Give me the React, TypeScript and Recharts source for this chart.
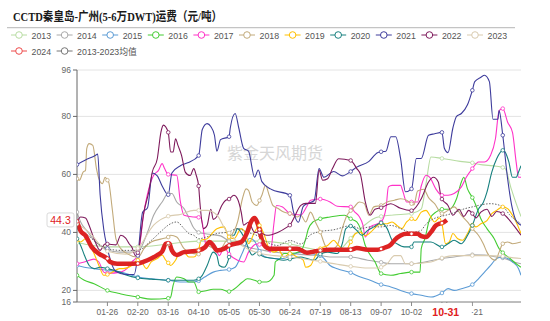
import React from "react";
import { LineChart, Line, XAxis, YAxis, CartesianGrid, ReferenceLine } from "recharts";

// [day of year (2024 calendar), 元/吨]
type Pt = [number, number];

const S2013: Pt[] = [[0,36.5],[25,35],[50,35],[75,36],[100,37],[125,37],[150,37],[175,36],[200,34],[215,34],[225,38],[235,42],[245,45],[250,45.5],[260,46],[275,46.5],[283,48],[287,57],[291,66],[300,65.5],[315,64.5],[325,64],[330,63.5],[345,62.8],[350,62.4],[352,62],[357,55],[361,50],[365,45.5]];
const S2014: Pt[] = [[0,47],[3,43.6],[9,40.1],[14,37.3],[19,35.5],[25,33.9],[35,33.2],[41,33.2],[50,33.4],[58,40.1],[63,45.9],[70,50.5],[75,53.4],[78,53.4],[82,50.5],[88,48.2],[92,45],[96,41.5],[100,40],[110,39.3],[118,38.8],[125,37],[135,35.8],[143,34.6],[151,34],[159,33.4],[167,33],[175,32.8],[189,32.2],[200,32],[208,31.5],[225,31.5],[239,30.4],[250,29.7],[258,29.2],[275,29.2],[286,29.8],[300,31],[310,31.5],[325,32.3],[335,32.2],[345,31.5],[350,31.2],[359,29.8],[365,29.2]];
const S2015: Pt[] = [[0,28.6],[6,28],[14,27.5],[25,26.9],[36,26.3],[50,24.6],[61,24],[75,23.5],[85,22.9],[96,22.9],[100,23.3],[105,24.6],[112,26.3],[118,26.9],[125,27.2],[130,28],[136,33],[142,38],[146,37],[150,33.5],[155,31.5],[162,31],[170,31],[175,31.8],[184,33.2],[192,32.7],[200,32],[203,31],[208,28.6],[214,27.5],[225,26.1],[233,24.6],[241,23.5],[250,22],[258,21.2],[266,20],[275,18.9],[283,18.3],[291,17.7],[300,19.1],[305,20.6],[310,20],[316,20.6],[325,22],[330,24],[335,26.3],[340,28.6],[345,31],[350,31.5],[354,31],[358,29.8],[363,27.5],[365,25.2]];
const S2016: Pt[] = [[0,25.2],[6,23.5],[14,22.3],[25,20],[35,18.9],[41,18.3],[50,17.7],[61,17],[75,17.3],[77,17.7],[79,21.7],[82,24.6],[88,24],[92,22.9],[96,22.9],[100,19.5],[105,19.8],[112,20.4],[118,20.4],[125,19.6],[129,20.4],[136,22.9],[140,24],[146,23.5],[150,22.9],[156,22.9],[162,25.2],[163,29.8],[167,31],[170,32.7],[175,32.7],[184,33.5],[188,37.8],[190,41],[194,43.6],[200,44.7],[208,45.3],[220,45.9],[225,44.7],[230,43.6],[233,41.3],[237,35.5],[245,29.8],[250,25.8],[258,25.2],[266,25.8],[275,26.3],[282,26.3],[283,34.4],[286,37.8],[290,44.7],[295,47],[300,48],[306,48],[312,51.6],[316,57.4],[318,59],[321,55],[325,52],[328,49.3],[332,44.7],[337,41.3],[343,37.8],[347,34.4],[350,33],[356,31],[361,29.2],[365,28]];
const S2017: Pt[] = [[0,29.2],[6,29.8],[14,30.8],[18,29.8],[22,26.3],[25,25.9],[36,26.3],[41,27.5],[45,29.8],[50,32],[55,47],[59,55],[63,59.7],[67,61.4],[70,63.7],[72,62],[75,60],[82,59.7],[85,50.5],[88,45.9],[96,45.3],[100,45.2],[102,45],[105,37.8],[106,35.5],[112,36],[117,32],[121,34.8],[125,32.5],[132,30.4],[137,29.8],[141,33.2],[148,36],[150,35.8],[154,35.5],[159,33.2],[162,43.5],[164,49.3],[169,48.8],[175,46.5],[184,46],[189,49],[192,51.1],[200,51.5],[208,50.5],[214,49],[225,48.8],[228,47.2],[232,45.5],[235,42.6],[237,38.4],[241,41.9],[250,43.6],[254,48.3],[256,55.7],[259,56.2],[266,56.2],[268,54],[271,50.5],[275,50.5],[280,50.5],[283,56],[287,59.7],[290,59],[295,55],[300,52.8],[305,52.8],[310,53.4],[316,55.7],[320,59],[325,62],[330,64.3],[335,64.3],[340,66.6],[344,72.3],[347,82],[350,82.7],[354,78],[358,74.5],[361,64.3],[363,59],[365,59]];
const S2018: Pt[] = [[0,58.5],[2,58],[5,60.8],[7,61.4],[8,68.9],[10,70.6],[13,70],[16,62],[18,58.5],[21,56.8],[23,59],[25,58],[26,57.4],[29,48],[32,37.8],[36,34.4],[41,32.7],[50,31.5],[52,32.2],[55,34.4],[61,36.7],[70,37.8],[75,38.4],[77,39],[82,38.4],[88,34.4],[92,33.2],[100,32.5],[102,34.4],[107,35.5],[113,34.4],[118,34.4],[122,36.7],[125,38],[132,43.6],[136,51.6],[139,55],[141,54.5],[144,50.5],[148,49.3],[150,51],[152,52.8],[155,56.2],[158,52.8],[161,49.3],[165,48.3],[170,47],[175,46.5],[181,45.3],[184,45.9],[188,43.6],[192,47],[196,43.6],[200,40.1],[204,35.5],[208,33.8],[214,35.5],[218,41.3],[222,45.9],[225,47.5],[228,48.8],[232,50.5],[236,50],[240,45.9],[244,48.8],[250,49.3],[255,50.5],[261,51.1],[266,51.6],[271,51.1],[275,49.9],[277,49.5],[280,54.3],[285,54.9],[289,52],[294,49.9],[300,46.5],[305,47.6],[310,48.8],[316,45.9],[321,43.6],[325,41.3],[330,39],[334,36.1],[337,33.2],[341,30.9],[344,30.4],[347,33.2],[350,36.1],[354,36.7],[358,36.1],[365,36.7]];
const S2019: Pt[] = [[0,37.3],[3,36.7],[7,37.8],[10,36.1],[14,32.7],[18,28.6],[22,25.2],[25,25.5],[27,25.8],[35,27.5],[38,27.5],[45,28.6],[50,30.4],[54,29.2],[57,27.5],[61,29.8],[66,31],[70,32.2],[73,30.4],[75,29.5],[77,28.6],[81,30.4],[84,32.7],[88,33.2],[92,31.5],[96,31.5],[100,34],[102,37.3],[107,37.8],[112,40.1],[115,41.3],[121,41.9],[124,39],[125,38.5],[129,37.8],[135,41.3],[139,39],[141,36.1],[146,40.1],[150,42.4],[154,39],[158,34.4],[162,33.2],[166,33.8],[170,31.5],[175,32.7],[181,31.5],[186,30.4],[188,28],[192,28.6],[196,32],[200,34.4],[206,35.5],[211,37.3],[215,35.5],[221,33.8],[225,36.7],[229,39.6],[233,40.1],[237,38.9],[243,40.7],[247,42.4],[250,43],[255,43],[259,43.6],[263,42.4],[267,41.3],[271,43.6],[275,44.7],[278,44.1],[283,47],[287,47.6],[290,45.9],[294,43.6],[298,45],[300,43],[303,36.1],[306,36.7],[309,39.6],[313,37.8],[317,37.3],[321,39.6],[325,42.5],[328,41.9],[332,43],[337,44.1],[341,46.5],[345,47.6],[350,48.8],[354,48.2],[358,45.9],[361,43.6],[365,39.6]];
const S2020: Pt[] = [[0,37.8],[3,35.5],[6,32.2],[10,28.6],[14,27.5],[19,28],[25,27.5],[35,26.3],[41,25.2],[50,24.3],[61,23.9],[75,23.5],[85,23.5],[96,23.5],[100,24],[103,25.2],[107,28.6],[112,33.2],[115,32],[117,28.6],[121,28],[125,31.5],[126,39],[129,39],[132,41.3],[135,40],[139,36.7],[141,34.4],[144,32.2],[148,33.2],[150,32.5],[154,31.5],[162,31],[170,30.4],[175,30.8],[184,31.5],[189,31],[195,30.4],[200,32.5],[206,33.2],[214,32.7],[218,36],[221,41.3],[225,42.2],[230,40.7],[234,39],[239,40.7],[244,41.9],[250,43.3],[255,41.3],[259,37.3],[263,36.1],[269,35],[275,35],[277,36.7],[283,36.7],[291,36.7],[300,35],[305,36.1],[310,37.3],[316,36.1],[321,38.9],[325,42.4],[330,48],[334,50.3],[337,53.9],[341,60.8],[345,65.4],[350,68.3],[352,67.7],[355,64.3],[358,59],[361,59],[363,60.8],[365,63]];
const S2021: Pt[] = [[0,63.4],[7,65],[15,66.5],[17,67],[19,53],[22,41],[25,34.5],[32,26.5],[40,25.5],[47,25.5],[50,32],[54,47],[58,48.5],[62,60.5],[66,59.5],[70,56],[75,53],[78,60.5],[85,63],[91,64],[100,66.5],[103,75.5],[107,77.5],[110,76.5],[113,73.5],[115,68],[118,72],[125,73],[126,76],[130,81],[133,76],[137,69],[141,68],[146,59],[149,61.5],[152,57.5],[159,55],[175,52.8],[178,47],[182,43.5],[186,49],[190,50],[195,51],[199,62],[203,59],[211,61],[218,59.5],[225,61],[230,62.5],[240,64.5],[247,67.5],[250,67.8],[254,68],[258,73],[262,73],[266,65.5],[270,54],[275,55],[279,65.5],[283,65.5],[289,73.5],[294,74],[300,74.5],[302,69],[305,67.5],[309,76],[312,80],[316,81],[321,84],[325,89],[327,92],[332,93.5],[335,94.2],[339,92],[342,79],[346,79],[347,82],[350,73.5],[354,58.5],[358,48],[361,44],[365,42.5]];
const S2022: Pt[] = [[0,43.6],[3,45.3],[7,45],[10,42.4],[14,37.8],[19,33.8],[23,36],[25,36],[32,35.7],[36,39],[40,38],[43,36],[45,35],[48,32],[50,33],[55,47],[59,54],[62,61],[66,65.4],[69,74.6],[71,77],[75,74.5],[77,67.7],[79,67.7],[81,72.3],[83,70],[86,66.5],[89,60.8],[93,59.6],[96,62],[98,59.7],[100,56],[101,50.5],[104,41.3],[107,42.5],[110,48],[112,44.5],[115,45.5],[119,49.3],[122,51],[125,51.5],[129,52.8],[132,51.5],[135,47],[137,42.5],[141,43.5],[146,40],[150,40],[156,39],[165,40],[173,41.9],[175,42.5],[178,44.7],[184,49.3],[188,50],[192,50],[196,50],[199,61.4],[202,58],[206,58.5],[210,62],[215,65.4],[225,64.8],[230,62],[233,60],[237,50.5],[241,45.9],[245,48],[250,48.5],[258,49.9],[266,48.3],[275,47.5],[283,51.6],[289,57.4],[293,59],[297,57.4],[299,52.8],[300,51.5],[305,49.3],[309,45.9],[314,48],[318,45.5],[322,47.6],[325,46.5],[328,45],[332,47],[337,48],[341,45.5],[345,47.2],[350,46.5],[355,44.5],[359,42.4],[365,39]];
const S2023: Pt[] = [[0,43],[10,40],[25,33.5],[40,32.5],[50,34.5],[63,42.5],[75,45.6],[85,46.2],[96,47.6],[100,47.6],[107,47.6],[115,46],[124,40],[125,39.8],[132,36.5],[140,34.4],[150,32.8],[162,32],[175,31.5],[184,31],[200,30],[214,29],[225,28.3],[239,27.7],[247,27.7],[250,28],[255,29.2],[261,32],[266,32],[270,29.2],[275,29.2],[291,29.8],[300,31.2],[310,32],[325,32],[337,32],[350,31.8],[354,31.5],[365,31]];
const SAVG: Pt[] = [[0,41.3],[9,39],[17,36.1],[25,34.4],[36,33.8],[50,33.8],[61,37.2],[70,40.7],[75,42.5],[82,43.6],[88,41.3],[92,39.6],[96,39],[100,37.8],[107,38.5],[115,39.6],[125,40.2],[132,41.3],[140,40.1],[150,38.5],[156,36.7],[165,35.5],[175,37.2],[184,36],[192,39.2],[200,40.3],[211,40.9],[225,42.3],[233,41.3],[241,41.9],[250,41.9],[258,42.4],[266,41.3],[275,40],[283,40.7],[286,42.4],[297,45.3],[300,45.6],[308,46.5],[319,48.2],[325,48.8],[330,49.3],[340,49.9],[350,48.9],[356,45.9],[365,43]];
const S2024: Pt[] = [[0,43.8],[3,40.5],[7,38.9],[12,35],[18,32.7],[23,31.5],[25,31],[27,29.9],[33,29.2],[41,29.2],[50,29.3],[55,29.9],[61,31],[66,32.2],[70,33.4],[73,36.1],[75,36.3],[76,36.1],[78,33.8],[82,32.2],[88,33.2],[93,33.4],[100,33.8],[105,34.8],[109,36.7],[112,35.5],[115,33.8],[121,34.4],[125,35.5],[135,36.7],[140,40.1],[143,43.6],[146,45],[148,43.6],[150,41],[151,39],[154,35.5],[158,34.4],[165,34.4],[175,34.4],[181,34.4],[189,33],[196,33.5],[200,33.8],[208,34],[216,34],[225,34],[230,34.6],[239,34],[247,34],[250,34.3],[252,34.6],[258,35.8],[261,37.3],[266,38.9],[271,39.5],[275,39.5],[280,39.5],[283,38.7],[287,38.4],[291,40.1],[295,42.4],[298,43],[300,43.2],[304,44.3]];

const LATEST_DAY = 304;
const LATEST_VALUE = 44.3;
const Y_TICKS = [16, 20, 40, 60, 80, 96];
// regular 25-day ticks, then the latest-date marker last so it paints over its neighbours
const X_TICKS = [25, 50, 75, 100, 125, 150, 175, 200, 225, 250, 275, 300, 325, LATEST_DAY];

const SERIES = [
  { name: "2013", color: "#b7dca2", data: S2013 },
  { name: "2014", color: "#a9a9a9", data: S2014 },
  { name: "2015", color: "#5b9bd5", data: S2015 },
  { name: "2016", color: "#44cc33", data: S2016 },
  { name: "2017", color: "#ff33c8", data: S2017 },
  { name: "2018", color: "#c2aa7a", data: S2018 },
  { name: "2019", color: "#ffc000", data: S2019 },
  { name: "2020", color: "#17807f", data: S2020 },
  { name: "2021", color: "#3e3c9c", data: S2021 },
  { name: "2022", color: "#7e1a5c", data: S2022 },
  { name: "2023", color: "#d9cbaf", data: S2023 },
];
const AVG = { name: "2013-2023均值", color: "#666666", data: SAVG };
const CUR = { name: "2024", color: "#dd2323", data: S2024 };

const LEGEND_ROWS = [
  [...SERIES.map((s) => ({ name: s.name, color: s.color }))],
  [{ name: CUR.name, color: "#ee4b4b" }, { name: AVG.name, color: "#777777" }],
];

const FONT = "Liberation Sans, Arial, 'Noto Sans CJK SC', sans-serif";

const toRows = (pts: Pt[]) => pts.map(([d, v]) => ({ d, v }));

function dayLabel(d: number) {
  const dt = new Date(2024, 0, 1 + d);
  const mm = String(dt.getMonth() + 1).padStart(2, "0");
  const dd = String(dt.getDate()).padStart(2, "0");
  return `${mm}-${dd}`;
}

const makeDot = (color: string) => (props: any) => {
  const { cx, cy, payload, index } = props;
  if (payload.d % 25 !== 0) return <g key={index} />;
  return <circle key={index} cx={cx} cy={cy} r={1.8} fill="#fff" stroke={color} strokeWidth={0.8} />;
};

function XTick(props: any) {
  const { x, y, payload } = props;
  if (payload.value === LATEST_DAY) {
    return (
      <g>
        <rect x={x - 25} y={y - 5} width={50} height={17} fill="#fff" />
        <text x={x - 1} y={y + 4} textAnchor="middle" dominantBaseline="central" fontSize={10.5} fontWeight="bold" fill="#e02020" fontFamily={FONT}>
          {dayLabel(payload.value)}
        </text>
      </g>
    );
  }
  return (
    <text x={x} y={y + 4} textAnchor="middle" dominantBaseline="central" fontSize={8.5} fill="#666" fontFamily={FONT}>
      {dayLabel(payload.value)}
    </text>
  );
}

function YValueLabel(props: any) {
  const { viewBox } = props;
  const x = viewBox.x;
  const y = viewBox.y;
  return (
    <g>
      <rect x={x - 30} y={y - 7} width={27} height={14} rx={2} fill="#fff" stroke="#d0d0d0" strokeWidth={0.8} />
      <text x={x - 16.5} y={y + 0.5} textAnchor="middle" dominantBaseline="central" fontSize={10.5} fill="#e02020" fontFamily={FONT}>
        {LATEST_VALUE}
      </text>
    </g>
  );
}

function Header() {
  return (
    <svg width={550} height={62} style={{ position: "absolute", left: 0, top: 0 }}>
      <text x={13} y={20.5} fontSize={12.5} fontWeight="bold" fill="#1a1a1a" fontFamily="Liberation Serif, 'Noto Sans CJK SC', serif" textLength={209} lengthAdjust="spacingAndGlyphs">
        CCTD秦皇岛-广州(5-6万DWT)运费（元/吨）
      </text>
      <line x1={7} y1={27.7} x2={515} y2={27.7} stroke="#c4c4c4" strokeWidth={1.2} />
      {LEGEND_ROWS.map((row, r) =>
        row.map((item, i) => {
          const x = 11 + 45.6 * i;
          const y = 35 + r * 16;
          return (
            <g key={`${r}-${i}`}>
              <line x1={x} y1={y} x2={x + 16} y2={y} stroke={item.color} strokeWidth={1} />
              <circle cx={x + 8} cy={y} r={3.3} fill="#fff" stroke={item.color} strokeWidth={1} />
              <text x={x + 20.5} y={y + 0.5} dominantBaseline="central" fontSize={8.8} fill="#555" fontFamily={FONT}>
                {item.name}
              </text>
            </g>
          );
        })
      )}
    </svg>
  );
}

export default function App() {
  return (
    <div style={{ position: "absolute", left: 0, top: 0, width: 550, height: 321, background: "#fff", overflow: "hidden" }}>
      <div
        style={{
          position: "absolute",
          left: 227,
          top: 142,
          fontSize: 16,
          color: "#d6d6d6",
          fontFamily: "'Noto Sans CJK SC', sans-serif",
          lineHeight: "20px",
          whiteSpace: "nowrap",
        }}
      >
        紫金天风期货
      </div>
      <Header />
      <div style={{ position: "absolute", left: 0, top: 0 }}>
        <LineChart width={550} height={321} margin={{ top: 70, right: 29, left: 0, bottom: 0 }}>
          <CartesianGrid vertical={false} stroke="#e4e4e4" />
          <XAxis
            type="number"
            dataKey="d"
            domain={[0, 365]}
            ticks={X_TICKS}
            interval={0}
            tick={<XTick />}
            height={19}
            tickSize={4}
            axisLine={{ stroke: "#8a8a8a" }}
            tickLine={{ stroke: "#8a8a8a" }}
            allowDataOverflow
          />
          <YAxis
            type="number"
            domain={[16, 96]}
            ticks={Y_TICKS}
            interval={0}
            width={77}
            tick={{ fontSize: 8.5, fill: "#666", fontFamily: FONT }}
            tickSize={4}
            axisLine={{ stroke: "#666" }}
            tickLine={{ stroke: "#666" }}
            allowDataOverflow
          />
          {SERIES.map((s) => (
            <Line
              key={s.name}
              data={toRows(s.data)}
              dataKey="v"
              name={s.name}
              type="monotone"
              stroke={s.color}
              strokeWidth={1.1}
              dot={makeDot(s.color)}
              activeDot={false}
              isAnimationActive={false}
            />
          ))}
          <Line
            data={toRows(AVG.data)}
            dataKey="v"
            name={AVG.name}
            type="monotone"
            stroke={AVG.color}
            strokeWidth={1}
            strokeDasharray="1.5 1.5"
            dot={false}
            activeDot={false}
            isAnimationActive={false}
          />
          <Line
            data={toRows(CUR.data)}
            dataKey="v"
            name={CUR.name}
            type="monotone"
            stroke={CUR.color}
            strokeWidth={4.5}
            dot={makeDot(CUR.color)}
            activeDot={false}
            isAnimationActive={false}
          />
          <ReferenceLine y={LATEST_VALUE} stroke="none" label={<YValueLabel />} />
        </LineChart>
      </div>
    </div>
  );
}
